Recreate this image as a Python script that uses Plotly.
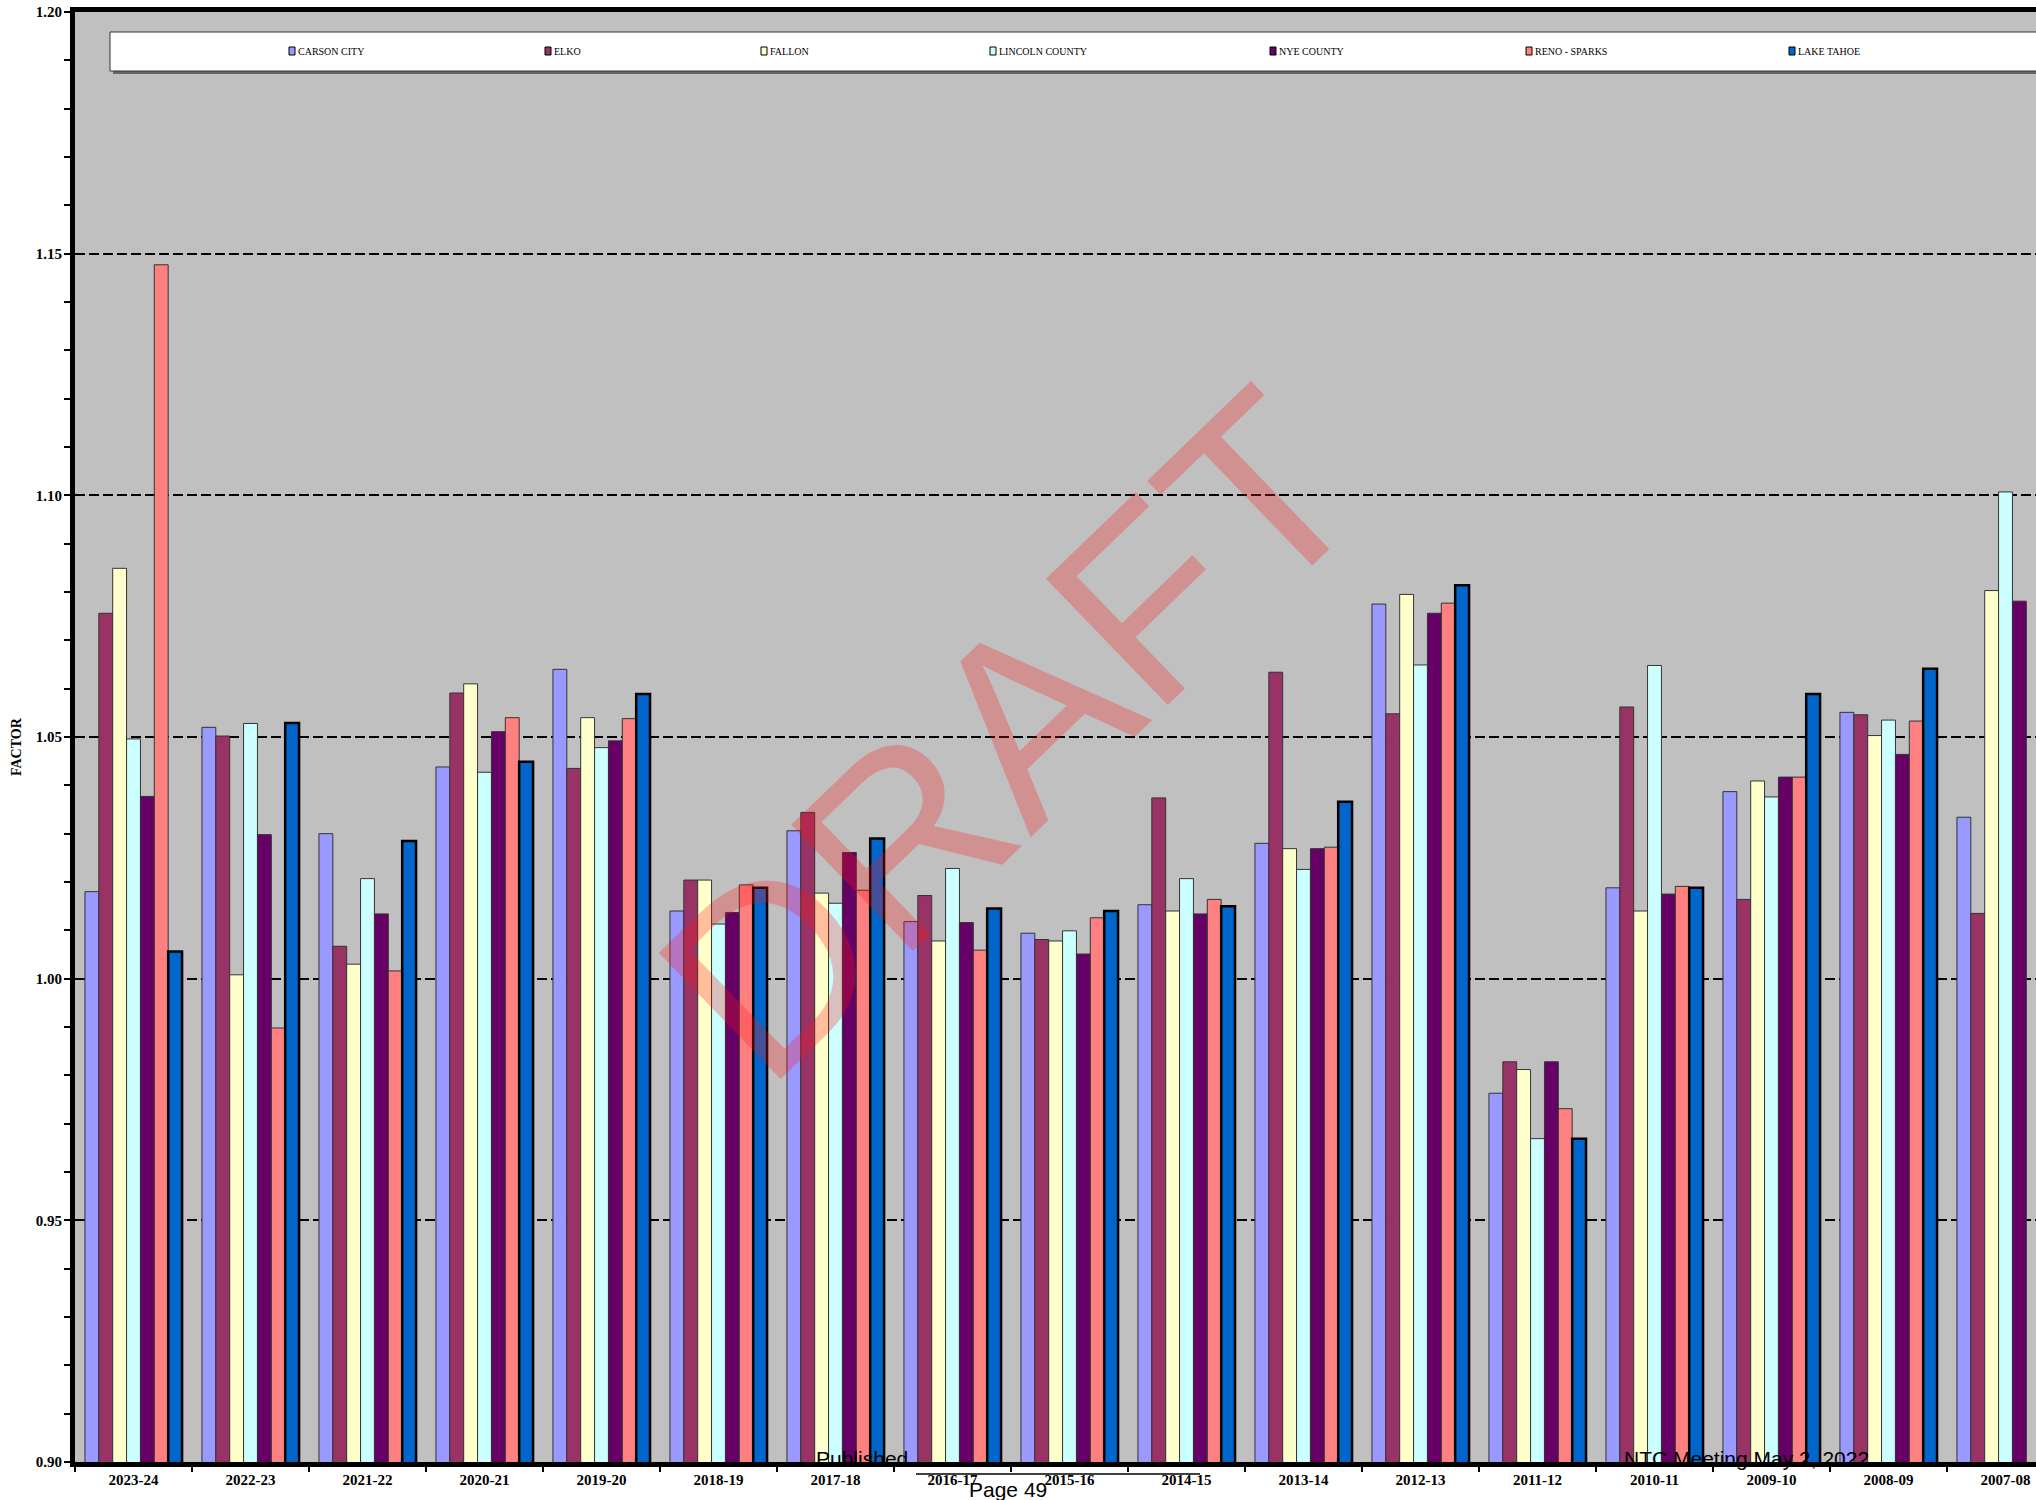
import plotly.graph_objects as go

# ---------------- data ----------------
categories = ["2023-24", "2022-23", "2021-22", "2020-21", "2019-20", "2018-19",
              "2017-18", "2016-17", "2015-16", "2014-15", "2013-14", "2012-13",
              "2011-12", "2010-11", "2009-10", "2008-09", "2007-08"]

series_names = ["CARSON CITY", "ELKO", "FALLON", "LINCOLN COUNTY",
                "NYE COUNTY", "RENO - SPARKS", "LAKE TAHOE"]

carson_city = [1.0180, 1.0520, 1.0300, 1.0438, 1.0640, 1.0140, 1.0306, 1.0118, 1.0094,
               1.0153, 1.0280, 1.0775, 0.9763, 1.0188, 1.0387, 1.0551, 1.0334]
elko = [1.0756, 1.0502, 1.0067, 1.0591, 1.0435, 1.0204, 1.0344, 1.0172, 1.0081,
        1.0374, 1.0634, 1.0548, 0.9828, 1.0562, 1.0164, 1.0546, 1.0135]
fallon = [1.0849, 1.0008, 1.0030, 1.0610, 1.0540, 1.0204, 1.0177, 1.0078, 1.0078,
          1.0140, 1.0269, 1.0795, 0.9812, 1.0140, 1.0409, 1.0503, 1.0803]
lincoln_county = [1.0496, 1.0528, 1.0207, 1.0427, 1.0478, 1.0113, 1.0156, 1.0228, 1.0099,
                  1.0207, 1.0226, 1.0649, 0.9669, 1.0648, 1.0376, 1.0535, 1.1007]
nye_county = [1.0377, 1.0298, 1.0134, 1.0511, 1.0492, 1.0137, 1.0261, 1.0116, 1.0051,
              1.0134, 1.0269, 1.0756, 0.9828, 1.0175, 1.0417, 1.0464, 1.0781]
reno_sparks = [1.1477, 0.9898, 1.0016, 1.0540, 1.0538, 1.0194, 1.0183, 1.0059, 1.0126,
               1.0164, 1.0272, 1.0777, 0.9731, 1.0191, 1.0417, 1.0533, None]
lake_tahoe = [1.0056, 1.0529, 1.0285, 1.0449, 1.0589, 1.0188, 1.0290, 1.0145, 1.0140,
              1.0150, 1.0366, 1.0814, 0.9669, 1.0188, 1.0589, 1.0641, None]

series_values = [carson_city, elko, fallon, lincoln_county, nye_county, reno_sparks, lake_tahoe]

# ---------------- styles ----------------
series_colors = ["#9999FF", "#993366", "#FFFFCC", "#CCFFFF", "#660066", "#FF8080", "#0066CC"]
series_line_widths = [1, 1, 1, 1, 1, 1, 2.5]
series_line_colors = ["#333333"] * 6 + ["#000000"]

W, H = 2036, 1500
ML, MR, MT, MB = 75, 0, 12, 38
PW, PH = W - ML - MR, H - MT - MB
CAT_PX = 117.0  # pixel width of one category; the last one is cut by the page edge


def px_x(x):
    return (x - ML) / PW


def px_y(y):
    return (H - MB - y) / PH


fig = go.Figure()
for name, vals, color, lw, lc in zip(series_names, series_values, series_colors,
                                     series_line_widths, series_line_colors):
    fig.add_trace(go.Bar(x=categories, y=vals, name=name,
                         marker=dict(color=color, line=dict(color=lc, width=lw))))

serif = "Liberation Serif, Times New Roman, serif"
sans = "Liberation Sans, Arial, sans-serif"

fig.update_layout(
    width=W, height=H,
    margin=dict(l=ML, r=MR, t=MT, b=MB, pad=0),
    plot_bgcolor="#C0C0C0", paper_bgcolor="white",
    barmode="group", bargap=0.17, bargroupgap=0,
    showlegend=False,
    font=dict(family=serif, color="black"),
)

fig.update_yaxes(
    range=[0.9, 1.2], tick0=0.9, dtick=0.05, tickformat=".2f",
    showgrid=True, gridcolor="black", griddash="10px,4px", gridwidth=2,
    zeroline=False, showline=True, linecolor="black", linewidth=5,
    ticks="outside", ticklen=6, tickwidth=2, tickcolor="black",
    minor=dict(dtick=0.01, ticks="outside", ticklen=6, tickwidth=2,
               tickcolor="black", showgrid=False),
    tickfont=dict(family=serif, size=15, color="black", weight="bold"),
    ticklabelstandoff=-1,
)
fig.update_xaxes(
    type="category", range=[-0.5, PW / CAT_PX - 0.5],
    showgrid=False, showline=True, linecolor="black", linewidth=5, mirror=True,
    ticks="outside", ticklen=5, tickwidth=1.5, tickcolor="black", tickson="boundaries",
    tickfont=dict(family=serif, size=15, color="black", weight="bold"),
)

shapes = []
annotations = []

# legend box (extends past right edge, as in reference)
shapes.append(dict(type="rect", xref="paper", yref="paper",
                   x0=px_x(113), x1=1.05, y0=px_y(74), y1=px_y(35),
                   fillcolor="#666666", line=dict(width=0), layer="above"))
shapes.append(dict(type="rect", xref="paper", yref="paper",
                   x0=px_x(110), x1=1.05, y0=px_y(71), y1=px_y(32),
                   fillcolor="white", line=dict(color="#333333", width=1), layer="above"))

legend_marker_x = [292, 548, 764, 993, 1273, 1529, 1792]
for name, color, mx in zip(series_names, series_colors, legend_marker_x):
    shapes.append(dict(type="rect", xref="paper", yref="paper",
                       x0=px_x(mx - 3), x1=px_x(mx + 3), y0=px_y(55), y1=px_y(47),
                       fillcolor=color, line=dict(color="black", width=1), layer="above"))
    annotations.append(dict(text=name, xref="paper", yref="paper",
                            x=px_x(mx + 4), y=px_y(51), xanchor="left", yanchor="middle",
                            showarrow=False, font=dict(family=serif, size=10, color="black")))

# axis title
annotations.append(dict(text="FACTOR", xref="paper", yref="paper",
                        x=px_x(16), y=px_y(747), textangle=-90,
                        xanchor="center", yanchor="middle", showarrow=False,
                        font=dict(family=serif, size=14, color="black", weight="bold")))

# DRAFT watermark
annotations.append(dict(text="DRAFT", xref="paper", yref="paper",
                        x=px_x(1010), y=px_y(735), textangle=-44,
                        xanchor="center", yanchor="middle", showarrow=False,
                        font=dict(family=sans, size=255, color="rgba(255,20,20,0.27)")))

# footer
annotations.append(dict(text="Published", xref="paper", yref="paper",
                        x=px_x(862), y=px_y(1458), xanchor="center", yanchor="middle",
                        showarrow=False, font=dict(family=sans, size=21, color="black")))
annotations.append(dict(text="Page 49", xref="paper", yref="paper",
                        x=px_x(1008), y=px_y(1489), xanchor="center", yanchor="middle",
                        showarrow=False, font=dict(family=sans, size=21, color="black")))
annotations.append(dict(text="NTC Meeting May 2, 2022", xref="paper", yref="paper",
                        x=px_x(1746), y=px_y(1458), xanchor="center", yanchor="middle",
                        showarrow=False, font=dict(family=sans, size=21, color="black")))
shapes.append(dict(type="line", xref="paper", yref="paper",
                   x0=px_x(916), x1=px_x(1200), y0=px_y(1474), y1=px_y(1474),
                   line=dict(color="black", width=1.5), layer="above"))

fig.update_layout(shapes=shapes, annotations=annotations)

fig.write_html("out.html",
               config={"displayModeBar": False},
               post_script="document.body.style.margin='0';document.body.style.overflow='hidden';")
